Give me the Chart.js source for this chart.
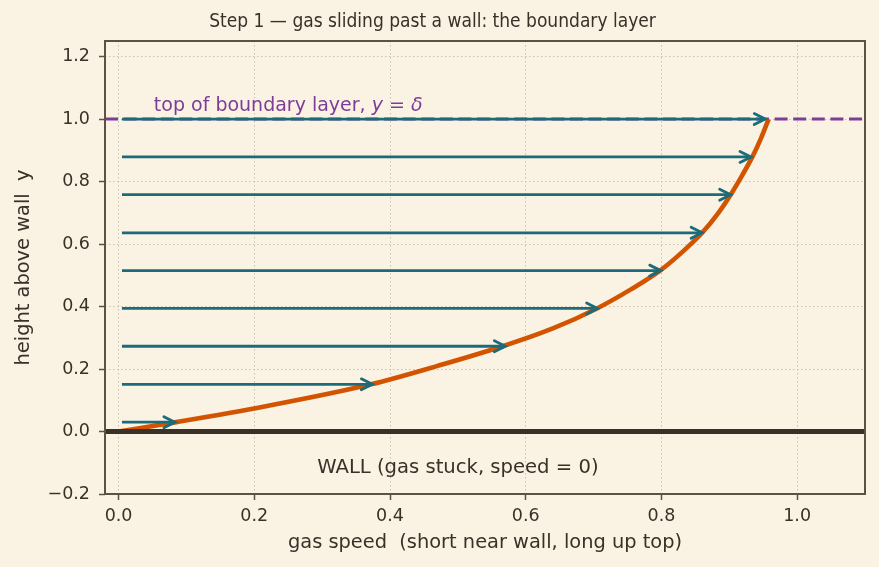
<!DOCTYPE html>
<html>
<head>
<meta charset="utf-8">
<script src="https://cdn.jsdelivr.net/npm/chart.js@4.4.1/dist/chart.umd.min.js"></script>
<style>
  html, body { margin: 0; padding: 0; background: #faf2e3; }
  #wrap { width: 879px; height: 567px; }
</style>
</head>
<body>
<div id="wrap"><canvas id="c" width="879" height="567"></canvas></div>
<script>
// ---- data ----
const xTicks = [0.0, 0.2, 0.4, 0.6, 0.8, 1.0];
const yTicks = [-0.2, 0.0, 0.2, 0.4, 0.6, 0.8, 1.0, 1.2];

// velocity profile (orange curve)
const profileY = [0.0, 0.03, 0.08, 0.151, 0.21, 0.273, 0.33, 0.394, 0.455, 0.515, 0.575, 0.636, 0.70, 0.758, 0.82, 0.879, 0.94, 1.0];
const profileX = [0.0, 0.085, 0.215, 0.372, 0.47, 0.566, 0.64, 0.705, 0.755, 0.798, 0.831, 0.860, 0.884, 0.902, 0.919, 0.934, 0.947, 0.958];

// arrows: heights and tip speeds
const arrowY = [0.03, 0.151, 0.273, 0.394, 0.515, 0.636, 0.758, 0.879, 1.0];
const arrowTipX = [0.083, 0.374, 0.570, 0.706, 0.799, 0.860, 0.902, 0.932, 0.953];
const arrowStartX = 0.005;

const deltaY = 1.0;    // top of boundary layer
const wallY = 0.0;
const xMin = -0.02, xMax = 1.1, yMin = -0.2, yMax = 1.25;

// ---- colours ----
const BG = '#faf2e3';
const TEXT = '#3a3028';
const SPINE = '#5c5243';
const GRID = '#c9c0b0';
const TEAL = '#1b6b7b';
const ORANGE = '#d35400';
const PURPLE = '#7d3c98';
const WALL = '#3b2f2a';

const FONT = "'DejaVu Sans', sans-serif";
const FONT_COND = "'DejaVu Sans Condensed', 'DejaVu Sans', sans-serif";

const datasets = [];
datasets.push({
  label: 'delta', data: [{x: xMin, y: deltaY}, {x: xMax, y: deltaY}],
  borderColor: PURPLE, borderWidth: 3, borderDash: [13, 5.6], pointRadius: 0, order: 5
});
datasets.push({
  label: 'profile', data: profileX.map((x, i) => ({x, y: profileY[i]})),
  borderColor: ORANGE, borderWidth: 4.6, pointRadius: 0, cubicInterpolationMode: 'monotone', order: 4
});
arrowY.forEach((y, i) => {
  datasets.push({
    label: 'arrow' + i, data: [{x: arrowStartX, y}, {x: arrowTipX[i] - 0.004, y}],
    borderColor: TEAL, borderWidth: 2.8, pointRadius: 0, order: 3
  });
});
datasets.push({
  label: 'wall', data: [{x: xMin, y: wallY}, {x: xMax, y: wallY}],
  borderColor: WALL, borderWidth: 5, pointRadius: 0, order: 1
});

const bgPlugin = {
  id: 'bg',
  beforeDraw(chart) {
    const ctx = chart.ctx;
    ctx.save();
    ctx.fillStyle = BG;
    ctx.fillRect(0, 0, chart.width, chart.height);
    ctx.restore();
  }
};

const extras = {
  id: 'extras',
  afterDatasetsDraw(chart) {
    const ctx = chart.ctx;
    const xs = chart.scales.x, ys = chart.scales.y;
    const a = chart.chartArea;
    ctx.save();
    // arrow heads
    ctx.strokeStyle = TEAL;
    ctx.lineWidth = 2.8;
    ctx.lineCap = 'round';
    ctx.lineJoin = 'miter';
    arrowY.forEach((y, i) => {
      const px = xs.getPixelForValue(arrowTipX[i]);
      const py = ys.getPixelForValue(y);
      ctx.beginPath();
      ctx.moveTo(px - 11, py - 5.5);
      ctx.lineTo(px, py);
      ctx.lineTo(px - 11, py + 5.5);
      ctx.stroke();
    });
    // frame
    ctx.strokeStyle = SPINE;
    ctx.lineWidth = 2;
    ctx.lineCap = 'butt';
    ctx.strokeRect(a.left, a.top, a.right - a.left, a.bottom - a.top);
    // annotation: top of boundary layer
    ctx.fillStyle = PURPLE;
    ctx.textBaseline = 'alphabetic';
    ctx.textAlign = 'left';
    let tx = xs.getPixelForValue(0.052);
    const ty = ys.getPixelForValue(1.025);
    const parts = [
      ['top of boundary layer, ', 'normal'],
      ['y', 'italic'],
      [' = ', 'normal'],
      ['δ', 'italic']
    ];
    parts.forEach(([t, st]) => {
      ctx.font = st + ' 19px ' + FONT;
      ctx.fillText(t, tx, ty);
      tx += ctx.measureText(t).width;
    });
    // wall label
    ctx.fillStyle = TEXT;
    ctx.font = '19.6px ' + FONT;
    ctx.textAlign = 'center';
    ctx.textBaseline = 'middle';
    ctx.fillText('WALL (gas stuck, speed = 0)', xs.getPixelForValue(0.5), ys.getPixelForValue(-0.115));
    ctx.restore();
  }
};

const fmt = v => v.toFixed(1).replace('-', '\u2212');

new Chart(document.getElementById('c'), {
  type: 'line',
  data: { datasets },
  options: {
    responsive: false,
    animation: false,
    devicePixelRatio: 1,
    layout: { padding: { left: 0, right: 14, top: 0, bottom: 0 } },
    plugins: {
      legend: { display: false },
      tooltip: { enabled: false },
      title: {
        display: true,
        text: 'Step 1 \u2014 gas sliding past a wall: the boundary layer',
        color: TEXT,
        font: { family: FONT_COND, size: 19, weight: 'normal' },
        padding: { top: 11, bottom: 7.2 }
      }
    },
    scales: {
      x: {
        type: 'linear', min: xMin, max: xMax,
        afterBuildTicks: s => { s.ticks = xTicks.map(v => ({value: v})); },
        afterFit: s => { s.height = 73; },
        ticks: { color: TEXT, font: { family: FONT, size: 17.5 }, padding: 6, callback: v => fmt(v), maxRotation: 0 },
        grid: { color: GRID, lineWidth: 1, tickColor: SPINE, tickLength: 6, tickWidth: 1.5 },
        border: { display: false, dash: [1.5, 2.5] },
        title: { display: true, text: 'gas speed  (short near wall, long up top)', color: TEXT,
                 font: { family: FONT, size: 19.4 }, padding: { top: 4, bottom: 12 } }
      },
      y: {
        type: 'linear', min: yMin, max: yMax,
        afterBuildTicks: s => { s.ticks = yTicks.map(v => ({value: v})); },
        afterFit: s => { s.width = 105; },
        ticks: { color: TEXT, font: { family: FONT, size: 17.5 }, padding: 9, callback: v => fmt(v) },
        grid: { color: GRID, lineWidth: 1, tickColor: SPINE, tickLength: 6, tickWidth: 1.5 },
        border: { display: false, dash: [1.5, 2.5] },
        title: { display: true, text: 'height above wall  y', color: TEXT,
                 font: { family: FONT, size: 19.4 }, padding: { top: 12, bottom: 4 } }
      }
    }
  },
  plugins: [bgPlugin, extras]
});
</script>
</body>
</html>
